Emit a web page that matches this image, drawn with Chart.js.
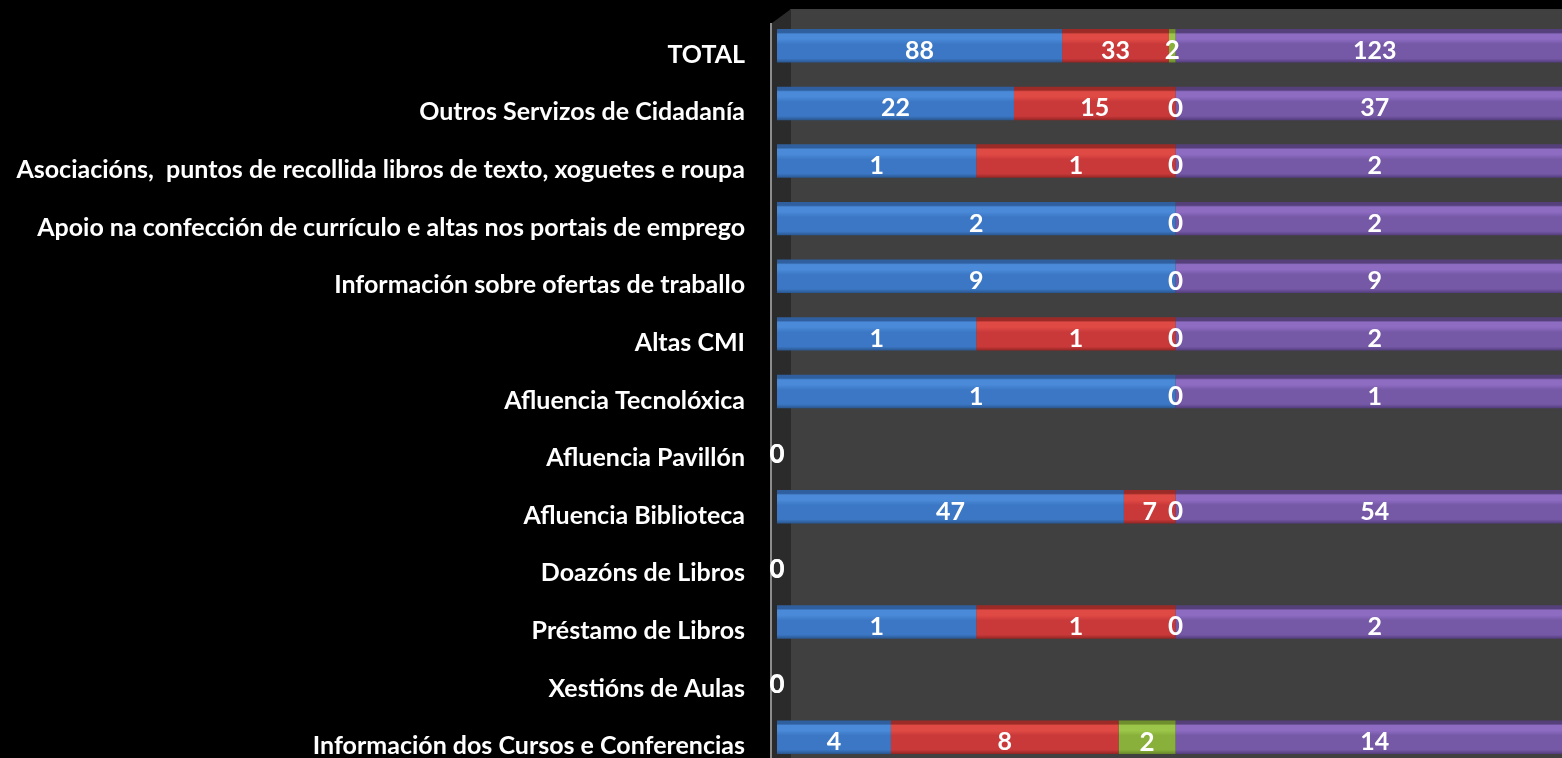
<!DOCTYPE html>
<html>
<head>
<meta charset="utf-8">
<script src="https://cdn.jsdelivr.net/npm/chart.js@4.4.1/dist/chart.umd.min.js"></script>
<style>
  html, body { margin: 0; padding: 0; background: #000; overflow: hidden; }
  #wrap { position: absolute; left: 0; top: 0; }
</style>
</head>
<body>
<div id="wrap"><canvas id="servicesChart" width="1580" height="772"></canvas></div>
<script>
const categories = [
    'TOTAL',
    'Outros Servizos de Cidadanía',
    'Asociacións,  puntos de recollida libros de texto, xoguetes e roupa',
    'Apoio na confección de currículo e altas nos portais de emprego',
    'Información sobre ofertas de traballo',
    'Altas CMI',
    'Afluencia Tecnolóxica',
    'Afluencia Pavillón',
    'Afluencia Biblioteca',
    'Doazóns de Libros',
    'Préstamo de Libros',
    'Xestións de Aulas',
    'Información dos Cursos e Conferencias'
];
const blueValues   = [88, 22, 1, 2, 9, 1, 1, 0, 47, 0, 1, 0, 4];
const redValues    = [33, 15, 1, 0, 0, 1, 0, 0, 7, 0, 1, 0, 8];
const greenValues  = [2, 0, 0, 0, 0, 0, 0, 0, 0, 0, 0, 0, 2];
const totalValues  = [123, 37, 2, 2, 9, 2, 1, 0, 54, 0, 2, 0, 14];

const BAR_PCT = 0.58;

// 100% stacking: each segment as a share of the row sum
const rowSums = categories.map((_, i) => blueValues[i] + redValues[i] + greenValues[i] + totalValues[i]);
const toPct = (arr) => arr.map((v, i) => rowSums[i] ? v / rowSums[i] * 100 : 0);

const palette = {
    blue:   { edge: '#2f5f9e', light: '#4a8ad8', main: '#3b77c4', dark: '#2a568f' },
    red:    { edge: '#9c2b27', light: '#e04a44', main: '#c9393a', dark: '#932624' },
    green:  { edge: '#6f8f2c', light: '#9cc64a', main: '#88b03a', dark: '#68882a' },
    purple: { edge: '#55407c', light: '#8d6cc2', main: '#7558a6', dark: '#533d7d' }
};

function barFill(c) {
    return (ctx) => {
        const chart = ctx.chart;
        const yScale = chart.scales.y;
        if (ctx.dataIndex === undefined || !yScale || !chart.chartArea) return c.main;
        const band = (yScale.bottom - yScale.top) / categories.length;
        const mid = yScale.getPixelForValue(ctx.dataIndex);
        const h = band * BAR_PCT;
        const g = chart.ctx.createLinearGradient(0, mid - h / 2, 0, mid + h / 2);
        g.addColorStop(0, c.edge);
        g.addColorStop(0.1, c.edge);
        g.addColorStop(0.15, c.light);
        g.addColorStop(0.3, c.light);
        g.addColorStop(0.45, c.main);
        g.addColorStop(0.88, c.main);
        g.addColorStop(1, c.dark);
        return g;
    };
}

// dark 3D walls behind the bars
const wallsPlugin = {
    id: 'walls',
    beforeDraw(chart) {
        const { ctx, chartArea: a, width, height } = chart;
        ctx.save();
        ctx.fillStyle = '#000';
        ctx.fillRect(0, 0, width, height);
        ctx.fillStyle = '#404040';
        ctx.fillRect(a.left + 13, a.top - 8, width - a.left - 13, height);
        ctx.fillStyle = '#2b2b2b';
        ctx.beginPath();
        ctx.moveTo(a.left - 5, a.top + 6);
        ctx.lineTo(a.left + 14, a.top - 8);
        ctx.lineTo(a.left + 14, height);
        ctx.lineTo(a.left - 5, height);
        ctx.closePath();
        ctx.fill();
        ctx.strokeStyle = '#8c8c8c';
        ctx.lineWidth = 2;
        ctx.beginPath();
        ctx.moveTo(a.left - 6, a.top + 6);
        ctx.lineTo(a.left - 6, height);
        ctx.stroke();
        ctx.restore();
    }
};

// value labels in the middle of each segment
const valueLabels = {
    id: 'valueLabels',
    afterDatasetsDraw(chart) {
        const ctx = chart.ctx;
        ctx.save();
        ctx.fillStyle = '#fff';
        ctx.textAlign = 'center';
        ctx.textBaseline = 'middle';
        chart.data.datasets.forEach((ds, di) => {
            const meta = chart.getDatasetMeta(di);
            ctx.font = 'bold ' + (di === 2 ? 26 : 25) + 'px Lato';
            meta.data.forEach((bar, i) => {
                const v = ds.raw[i];
                if (v === 0 && !ds.showZero) return;
                ctx.fillText(String(v), (bar.x + bar.base) / 2, bar.y + 5);
            });
        });
        ctx.restore();
    }
};

new Chart(document.getElementById('servicesChart'), {
    type: 'bar',
    data: {
        labels: categories,
        datasets: [
            { label: 'Serie 1', data: toPct(blueValues), raw: blueValues, showZero: false, backgroundColor: barFill(palette.blue) },
            { label: 'Serie 2', data: toPct(redValues), raw: redValues, showZero: false, backgroundColor: barFill(palette.red) },
            { label: 'Serie 3', data: toPct(greenValues), raw: greenValues, showZero: true, backgroundColor: barFill(palette.green) },
            { label: 'Total', data: toPct(totalValues), raw: totalValues, showZero: true, backgroundColor: barFill(palette.purple) }
        ]
    },
    options: {
        indexAxis: 'y',
        responsive: false,
        animation: false,
        datasets: {
            bar: { barPercentage: BAR_PCT, categoryPercentage: 1, borderWidth: 0 }
        },
        layout: { padding: { top: 17, bottom: 6, right: 6, left: 0 } },
        scales: {
            x: { stacked: true, min: 0, max: 100, display: false },
            y: {
                stacked: true,
                grid: { display: false, drawTicks: false, tickLength: 0 },
                border: { display: false },
                ticks: {
                    color: '#fff',
                    padding: 32,
                    labelOffset: 9,
                    autoSkip: false,
                    font: { family: 'Lato', size: 25, weight: 'bold' }
                },
                afterFit(scale) {
                    scale.width = 777;
                    scale.paddingTop = 0;
                    scale.paddingBottom = 0;
                }
            }
        },
        plugins: {
            legend: { display: false },
            tooltip: { enabled: false }
        }
    },
    plugins: [wallsPlugin, valueLabels]
});
</script>
</body>
</html>
